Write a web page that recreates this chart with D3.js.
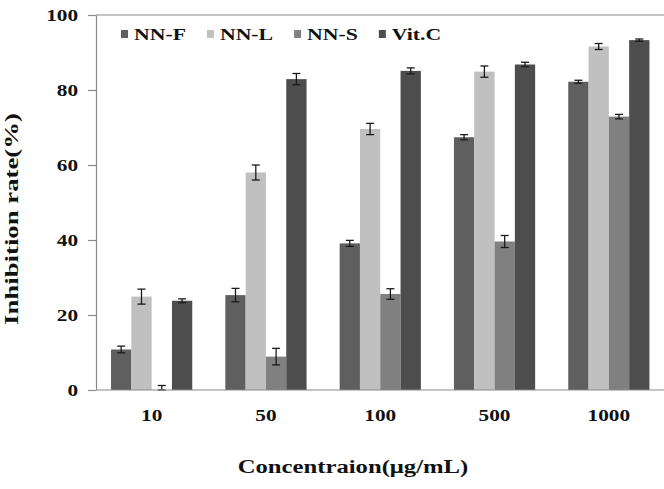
<!DOCTYPE html>
<html>
<head>
<meta charset="utf-8">
<script src="https://cdn.jsdelivr.net/npm/d3@7"></script>
<style>
  body { margin: 0; background: #fff; }
  svg { display: block; }
  text { font-family: "Liberation Serif", "Times New Roman", serif; font-weight: bold; fill: #111; }
</style>
</head>
<body>
<div id="chart"></div>
<script>
// concentrations (µg/mL) and the four samples
const concentrations = ["10", "50", "100", "500", "1000"]
const seriesNames = ["NN-F", "NN-L", "NN-S", "Vit.C"]

// inhibition rate (%) per series, one value per concentration
const nnF = [10.8, 25.3, 39.1, 67.4, 82.2]
const nnL = [24.9, 58.0, 69.6, 84.9, 91.6]
const nnS = [0.0, 8.9, 25.6, 39.6, 72.9]
const vitC = [23.8, 82.9, 85.1, 86.8, 93.3]

// error bar half-widths
const nnFErr = [0.9, 1.8, 0.8, 0.7, 0.4]
const nnLErr = [2.0, 2.0, 1.5, 1.5, 0.8]
const nnSErr = [1.2, 2.2, 1.4, 1.6, 0.6]
const vitCErr = [0.5, 1.5, 0.8, 0.6, 0.3]

const yTicks = [0, 20, 40, 60, 80, 100]

const colors = { "NN-F": "#5f5f5f", "NN-L": "#c0c0c0", "NN-S": "#808080", "Vit.C": "#4d4d4d" }

const width = 664, height = 489
const sx = 1.33 // the source picture is stretched sideways, so text is too

const values = [nnF, nnL, nnS, vitC]
const errors = [nnFErr, nnLErr, nnSErr, vitCErr]
const data = []
concentrations.forEach((c, i) => {
  seriesNames.forEach((s, j) => {
    data.push({ conc: c, series: s, value: values[j][i], err: errors[j][i] })
  })
})

const svg = d3.select("#chart").append("svg")
  .attr("width", width)
  .attr("height", height)

const y = d3.scaleLinear().domain([0, 100]).range([390, 15])
const x0 = d3.scaleBand().domain(concentrations).range([94.5, 666])
const x1 = d3.scaleBand().domain(seriesNames).range([0, x0.bandwidth()]).paddingOuter(0.815)

const axisX = 96

// top border line at 100
svg.append("line")
  .attr("x1", axisX).attr("x2", width)
  .attr("y1", y(100)).attr("y2", y(100))
  .attr("stroke", "#8a8a8a").attr("stroke-width", 1.2)

// bars
svg.append("g")
  .selectAll("rect")
  .data(data)
  .join("rect")
  .attr("x", d => x0(d.conc) + x1(d.series))
  .attr("y", d => y(d.value))
  .attr("width", x1.bandwidth())
  .attr("height", d => y(0) - y(d.value))
  .attr("fill", d => colors[d.series])

// error bars
const eb = svg.append("g")
  .attr("stroke", "#1a1a1a")
  .attr("stroke-width", 1.3)
  .selectAll("g")
  .data(data)
  .join("g")
  .attr("transform", d => "translate(" + (x0(d.conc) + x1(d.series) + x1.bandwidth() / 2) + ",0)")

eb.append("line")
  .attr("y1", d => y(d.value + d.err))
  .attr("y2", d => y(Math.max(0, d.value - d.err)))
eb.append("line")
  .attr("x1", -4).attr("x2", 4)
  .attr("y1", d => y(d.value + d.err)).attr("y2", d => y(d.value + d.err))
eb.append("line")
  .attr("x1", -4).attr("x2", 4)
  .attr("y1", d => y(Math.max(0, d.value - d.err))).attr("y2", d => y(Math.max(0, d.value - d.err)))

// y axis
const gy = svg.append("g")
  .attr("transform", "translate(" + axisX + ",0)")
  .call(d3.axisLeft(y).tickValues(yTicks).tickSize(8).tickSizeOuter(0))
gy.select(".domain").attr("stroke", "#8a8a8a").attr("stroke-width", 1.2)
gy.selectAll(".tick line").attr("stroke", "#8a8a8a").attr("stroke-width", 1.2)
gy.selectAll(".tick text")
  .attr("x", -13.5)
  .attr("dy", "0.34em")
  .attr("transform", "scale(" + sx + ",1)")
  .attr("font-family", null)
  .attr("font-size", 16)
  .attr("fill", "#111")

// x axis, no tick marks
const gx = svg.append("g")
  .attr("transform", "translate(0," + y(0) + ")")
  .call(d3.axisBottom(x0).tickSize(0).tickSizeOuter(0))
gx.select(".domain").attr("d", "M" + axisX + ",0H" + width).attr("stroke", "#8a8a8a").attr("stroke-width", 1.2)
gx.selectAll(".tick text")
  .attr("y", 31)
  .attr("dy", 0)
  .attr("transform", "scale(" + sx + ",1)")
  .attr("font-family", null)
  .attr("font-size", 16)
  .attr("fill", "#111")

// axis titles
svg.append("text")
  .attr("transform", "translate(353,473) scale(" + 1.3 + ",1)")
  .attr("text-anchor", "middle")
  .attr("font-size", 19)
  .text("Concentraion(μg/mL)")

svg.append("text")
  .attr("transform", "translate(18,219) rotate(-90)")
  .attr("text-anchor", "middle")
  .attr("font-size", 19)
  .attr("textLength", 212)
  .attr("lengthAdjust", "spacingAndGlyphs")
  .text("Inhibition rate(%)")

// legend
const legend = svg.append("g")
let lx = 121
seriesNames.forEach(s => {
  legend.append("rect")
    .attr("x", lx).attr("y", 30)
    .attr("width", 7).attr("height", 8)
    .attr("fill", colors[s])
  const t = legend.append("text")
    .attr("transform", "translate(" + (lx + 13) + ",40) scale(1.28,1)")
    .attr("font-size", 17)
    .text(s)
  lx += 13 + t.node().getComputedTextLength() * 1.28 + 21
})
</script>
</body>
</html>
